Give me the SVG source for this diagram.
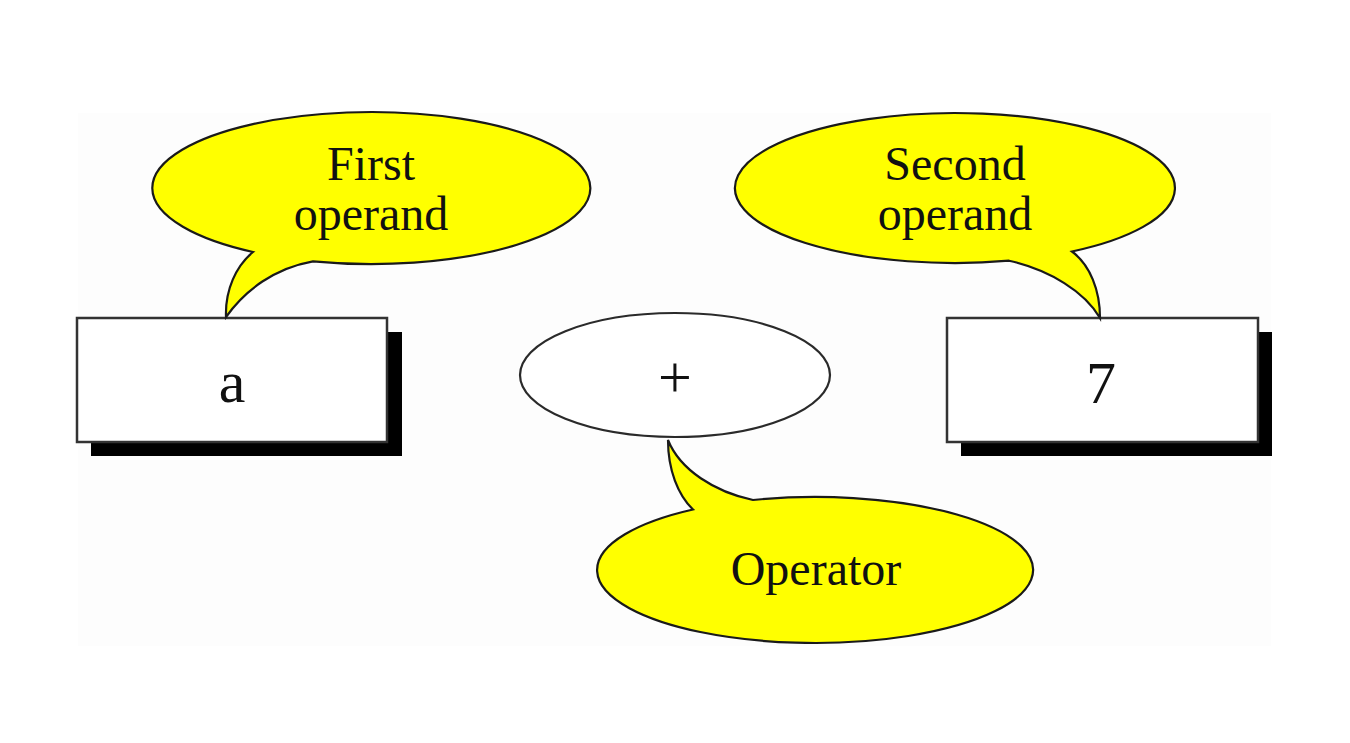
<svg xmlns="http://www.w3.org/2000/svg" width="1350" height="743" viewBox="0 0 1350 743">
<style>
.balloon{fill:#ffff00;stroke:#1a1a1a;stroke-width:2.2}
.box{fill:#ffffff;stroke:#333333;stroke-width:2.5}
.shadow{fill:#000000}
.oval{fill:#ffffff;stroke:#2a2a2a;stroke-width:2.2}
.t{font-family:"Liberation Serif","Times New Roman",serif;fill:#111111;text-anchor:middle}
.bt{font-size:48px}
.nt{font-size:60px}
</style>
<rect x="0" y="0" width="1350" height="743" fill="#ffffff"/>
<rect x="78" y="113" width="1193" height="533" fill="#fdfdfd"/>
<g id="box-a">
<rect class="shadow" x="91" y="332" width="311" height="124"/>
<rect class="box" x="77" y="318" width="310" height="124"/>
<text class="t nt" x="232" y="402">a</text>
</g>
<g id="box-7">
<rect class="shadow" x="961" y="332" width="311" height="124"/>
<rect class="box" x="947" y="318" width="311" height="124"/>
<text class="t nt" x="1101" y="403">7</text>
</g>
<g id="operator-oval">
<ellipse class="oval" cx="675" cy="375" rx="155" ry="62"/>
<text class="t nt" x="675" y="397">+</text>
</g>
<g id="balloon-first">
<path class="balloon" d="M313,261.3 A219,76 0 1 0 253,252 C236,266 225,290 226,317 C245,290 275,268 313,261.3 Z"/>
<text class="t bt" x="371" y="180">First</text>
<text class="t bt" x="371" y="230">operand</text>
</g>
<g id="balloon-second">
<path class="balloon" d="M1009,260.7 A220,75 0 1 1 1072,251.5 C1090,265 1100,290 1100,318 C1085,292 1050,270 1009,260.7 Z"/>
<text class="t bt" x="955" y="180">Second</text>
<text class="t bt" x="955" y="230">operand</text>
</g>
<g id="balloon-operator">
<path class="balloon" d="M693,509.5 C678,495 668,470 668,440 C680,470 715,492 753,500 A218,73 0 1 1 693,509.5 Z"/>
<text class="t bt" x="816" y="585">Operator</text>
</g>
<g id="connectors"></g>
</svg>
